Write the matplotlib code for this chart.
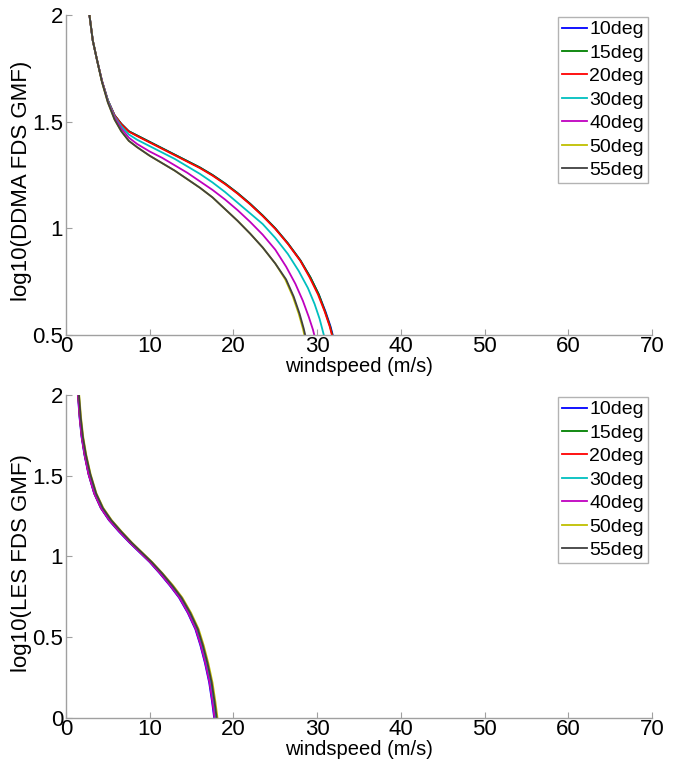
import matplotlib
matplotlib.use('Agg')
import matplotlib.pyplot as plt

plt.rcParams['font.family'] = ['Liberation Sans', 'DejaVu Sans']

labels = ['10deg', '15deg', '20deg', '30deg', '40deg', '50deg', '55deg']
colors = ['#0000ff', '#008000', '#ff0000', '#00bfbf', '#bf00bf', '#bfbf00', '#404040']

xticks = [0, 10, 20, 30, 40, 50, 60, 70]
yticks_top = [0.5, 1, 1.5, 2]
yticks_top_labels = ['0.5', '1', '1.5', '2']
yticks_bot = [0, 0.5, 1, 1.5, 2]
yticks_bot_labels = ['0', '0.5', '1', '1.5', '2']

# ---- top panel: log10(DDMA FDS GMF) ----
top_x_10 = [2.5, 2.8, 3.2, 3.7, 4.3, 5.0, 5.8, 6.6, 7.5, 8.5, 10, 11.5, 13, 14.5, 16, 17.5, 19, 20.5, 22, 23.5, 25, 26.5, 28, 29.2, 30.2, 31.0, 31.6, 32.0, 32.2]
top_y_10 = [2.12, 2.0, 1.88, 1.79, 1.69, 1.60, 1.53, 1.49, 1.455, 1.435, 1.405, 1.375, 1.345, 1.315, 1.285, 1.25, 1.21, 1.165, 1.115, 1.06, 1.0, 0.93, 0.85, 0.77, 0.69, 0.61, 0.54, 0.48, 0.45]
top_x_15 = [2.5, 2.8, 3.2, 3.7, 4.3, 5.0, 5.8, 6.6, 7.5, 8.5, 10, 11.5, 13, 14.5, 16, 17.5, 19, 20.5, 22, 23.5, 25, 26.5, 28, 29.2, 30.2, 30.95, 31.55, 31.95, 32.15]
top_y_15 = [2.12, 2.0, 1.88, 1.79, 1.69, 1.60, 1.53, 1.49, 1.455, 1.435, 1.405, 1.375, 1.345, 1.315, 1.285, 1.25, 1.21, 1.165, 1.115, 1.06, 1.0, 0.93, 0.85, 0.77, 0.69, 0.61, 0.54, 0.48, 0.45]
top_x_20 = [2.5, 2.8, 3.2, 3.7, 4.3, 5.0, 5.8, 6.6, 7.5, 8.5, 10, 11.5, 13, 14.5, 16, 17.5, 19, 20.5, 22, 23.5, 25, 26.5, 28, 29.1, 30.1, 30.9, 31.5, 31.9, 32.1]
top_y_20 = [2.12, 2.0, 1.88, 1.79, 1.69, 1.60, 1.53, 1.488, 1.453, 1.432, 1.402, 1.372, 1.342, 1.312, 1.282, 1.247, 1.207, 1.162, 1.112, 1.057, 0.997, 0.927, 0.847, 0.77, 0.69, 0.61, 0.54, 0.48, 0.45]
top_x_30 = [2.5, 2.8, 3.2, 3.7, 4.3, 5.0, 5.8, 6.6, 7.5, 8.5, 10, 11.5, 13, 14.5, 16, 17.5, 19, 20.5, 22, 23.5, 25, 26.5, 27.8, 28.9, 29.7, 30.3, 30.8, 31.1]
top_y_30 = [2.12, 2.0, 1.88, 1.79, 1.69, 1.60, 1.525, 1.478, 1.44, 1.415, 1.385, 1.355, 1.325, 1.29, 1.255, 1.215, 1.17, 1.12, 1.07, 1.02, 0.955, 0.88, 0.80, 0.72, 0.645, 0.575, 0.50, 0.45]
top_x_40 = [2.5, 2.8, 3.2, 3.7, 4.3, 5.0, 5.8, 6.6, 7.5, 8.5, 10, 11.5, 13, 14.5, 16, 17.5, 19, 20.5, 22, 23.5, 25, 26.3, 27.4, 28.3, 29.0, 29.5, 29.85]
top_y_40 = [2.12, 2.0, 1.88, 1.79, 1.69, 1.595, 1.52, 1.468, 1.425, 1.395, 1.36, 1.33, 1.295, 1.26, 1.22, 1.18, 1.135, 1.085, 1.03, 0.97, 0.90, 0.82, 0.74, 0.66, 0.585, 0.525, 0.47]
top_x_50 = [2.5, 2.8, 3.2, 3.7, 4.3, 5.0, 5.8, 6.6, 7.5, 8.5, 10, 11.5, 13, 14.5, 16, 17.5, 19, 20.5, 22, 23.5, 25, 26.2, 27.1, 27.8, 28.3, 28.65]
top_y_50 = [2.12, 2.0, 1.88, 1.79, 1.685, 1.59, 1.51, 1.455, 1.41, 1.38, 1.34, 1.305, 1.27, 1.23, 1.19, 1.145, 1.09, 1.035, 0.975, 0.91, 0.835, 0.76, 0.68, 0.60, 0.53, 0.47]
top_x_55 = [2.5, 2.8, 3.2, 3.7, 4.3, 5.0, 5.8, 6.6, 7.5, 8.5, 10, 11.5, 13, 14.5, 16, 17.5, 19, 20.5, 22, 23.5, 25, 26.3, 27.2, 27.9, 28.4, 28.75]
top_y_55 = [2.12, 2.0, 1.88, 1.79, 1.685, 1.59, 1.51, 1.455, 1.41, 1.38, 1.34, 1.305, 1.27, 1.23, 1.19, 1.145, 1.09, 1.035, 0.975, 0.91, 0.835, 0.76, 0.68, 0.60, 0.53, 0.47]

# ---- bottom panel: log10(LES FDS GMF) ----
bot_y = [2.12, 2.0, 1.86, 1.74, 1.63, 1.51, 1.39, 1.30, 1.225, 1.155, 1.085, 1.025, 0.965, 0.895, 0.82, 0.745, 0.65, 0.55, 0.45, 0.34, 0.22, 0.10, 0.0, -0.05]
bot_x_10 = [1.25, 1.42, 1.62, 1.86, 2.2, 2.68, 3.36, 4.15, 5.12, 6.3, 7.6, 8.8, 10.0, 11.2, 12.4, 13.5, 14.55, 15.45, 16.05, 16.6, 17.1, 17.45, 17.7, 17.8]
bot_x_15 = [1.3, 1.46, 1.66, 1.9, 2.24, 2.72, 3.4, 4.2, 5.2, 6.4, 7.7, 8.9, 10.1, 11.3, 12.5, 13.6, 14.65, 15.55, 16.15, 16.7, 17.2, 17.55, 17.8, 17.9]
bot_x_20 = [1.3, 1.46, 1.66, 1.9, 2.24, 2.72, 3.4, 4.2, 5.2, 6.4, 7.7, 8.9, 10.1, 11.3, 12.5, 13.6, 14.65, 15.55, 16.15, 16.7, 17.2, 17.55, 17.8, 17.9]
bot_x_30 = [1.33, 1.5, 1.7, 1.95, 2.3, 2.8, 3.5, 4.3, 5.3, 6.5, 7.8, 9.0, 10.2, 11.4, 12.6, 13.7, 14.75, 15.65, 16.25, 16.8, 17.3, 17.65, 17.9, 18.0]
bot_x_40 = [1.28, 1.44, 1.64, 1.88, 2.22, 2.7, 3.38, 4.18, 5.16, 6.36, 7.65, 8.85, 10.05, 11.25, 12.45, 13.55, 14.6, 15.5, 16.1, 16.65, 17.15, 17.5, 17.75, 17.85]
bot_x_50 = [1.4, 1.58, 1.8, 2.06, 2.42, 2.94, 3.64, 4.46, 5.46, 6.64, 7.9, 9.1, 10.3, 11.55, 12.8, 13.9, 14.95, 15.85, 16.45, 17.0, 17.5, 17.85, 18.1, 18.2]
bot_x_55 = [1.38, 1.55, 1.76, 2.02, 2.38, 2.9, 3.6, 4.4, 5.4, 6.58, 7.85, 9.05, 10.25, 11.5, 12.7, 13.8, 14.85, 15.75, 16.35, 16.9, 17.4, 17.75, 18.0, 18.1]

top_series = [(top_x_10, top_y_10), (top_x_15, top_y_15), (top_x_20, top_y_20), (top_x_30, top_y_30),
              (top_x_40, top_y_40), (top_x_50, top_y_50), (top_x_55, top_y_55)]
bot_series = [bot_x_10, bot_x_15, bot_x_20, bot_x_30, bot_x_40, bot_x_50, bot_x_55]

fig = plt.figure(figsize=(6.91, 7.66), dpi=100)
ax1 = fig.add_axes([0.0955, 0.5627, 0.848, 0.4178])
ax2 = fig.add_axes([0.0955, 0.0627, 0.848, 0.4217])

for (xs, ys), c, lab in zip(top_series, colors, labels):
    ax1.plot(xs, ys, color=c, lw=1.3, label=lab)
for xs, c, lab in zip(bot_series, colors, labels):
    ax2.plot(xs, bot_y, color=c, lw=1.3, label=lab)

axis_gray = '#a0a0a0'
for ax, yt, ytl, ylab, ylim in [(ax1, yticks_top, yticks_top_labels, 'log10(DDMA FDS GMF)', (0.5, 2)),
                                (ax2, yticks_bot, yticks_bot_labels, 'log10(LES FDS GMF)', (0, 2))]:
    ax.set_xlim(0, 70)
    ax.set_ylim(*ylim)
    ax.set_xticks(xticks)
    ax.set_xticklabels([str(t) for t in xticks])
    ax.set_yticks(yt)
    ax.set_yticklabels(ytl)
    for s in ['top', 'right']:
        ax.spines[s].set_visible(False)
    for s in ['left', 'bottom']:
        ax.spines[s].set_color(axis_gray)
        ax.spines[s].set_linewidth(1.0)
    ax.tick_params(direction='in', length=4, color=axis_gray, labelsize=16, labelcolor='black')
    ax.tick_params(axis='x', pad=1)
    ax.tick_params(axis='y', pad=2)
    ax.set_xlabel('windspeed (m/s)', fontsize=14.5, labelpad=0)
    ax.set_ylabel(ylab, fontsize=16)
    ax.yaxis.set_label_coords(-0.058, 0.48)
    leg = ax.legend(loc='upper right', bbox_to_anchor=(0.993, 0.994), fontsize=14,
                    frameon=True, fancybox=False, edgecolor=axis_gray, handlelength=1.3,
                    handletextpad=0.1, labelspacing=0.3, borderpad=0.2, borderaxespad=0)
    leg.get_frame().set_linewidth(1.0)

fig.savefig('out.png', dpi=100)
